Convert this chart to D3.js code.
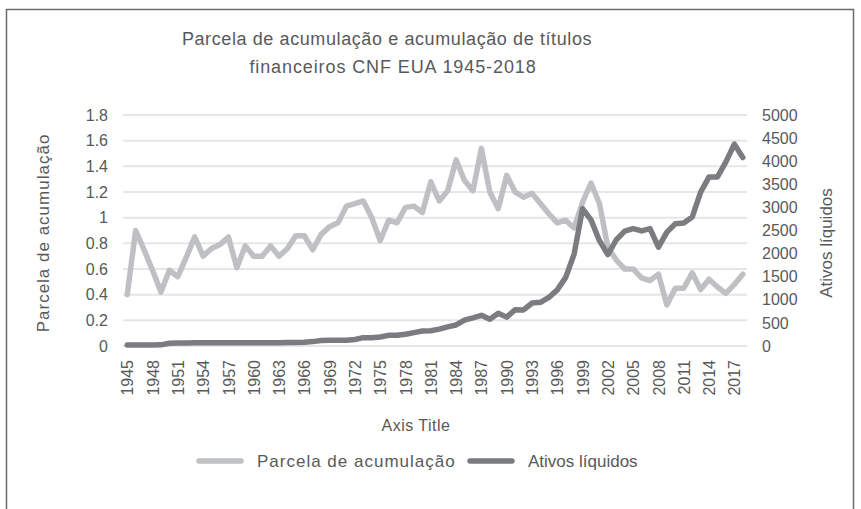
<!DOCTYPE html>
<html>
<head>
<meta charset="utf-8">
<script src="https://cdn.jsdelivr.net/npm/d3@7"></script>
<style>
  body { margin: 0; background: #fff; }
  svg text { font-family: "Liberation Sans", Arial, sans-serif; fill: #595959; }
</style>
</head>
<body>
<svg id="chart" width="861" height="509"></svg>
<script>
// categories (years)
const years = [1945, 1946, 1947, 1948, 1949, 1950, 1951, 1952, 1953, 1954,
    1955, 1956, 1957, 1958, 1959, 1960, 1961, 1962, 1963, 1964,
    1965, 1966, 1967, 1968, 1969, 1970, 1971, 1972, 1973, 1974,
    1975, 1976, 1977, 1978, 1979, 1980, 1981, 1982, 1983, 1984,
    1985, 1986, 1987, 1988, 1989, 1990, 1991, 1992, 1993, 1994,
    1995, 1996, 1997, 1998, 1999, 2000, 2001, 2002, 2003, 2004,
    2005, 2006, 2007, 2008, 2009, 2010, 2011, 2012, 2013, 2014,
    2015, 2016, 2017, 2018];

// left axis series
const parcela = [0.40, 0.90, 0.75, 0.59, 0.42, 0.59, 0.54, 0.69, 0.85, 0.70,
    0.76, 0.79, 0.85, 0.61, 0.78, 0.70, 0.70, 0.78, 0.70, 0.76,
    0.86, 0.86, 0.75, 0.87, 0.93, 0.96, 1.09, 1.11, 1.13, 1.00,
    0.82, 0.98, 0.96, 1.08, 1.09, 1.04, 1.28, 1.13, 1.21, 1.45,
    1.29, 1.21, 1.54, 1.20, 1.07, 1.33, 1.20, 1.16, 1.19, 1.11,
    1.03, 0.96, 0.98, 0.92, 1.12, 1.27, 1.11, 0.77, 0.67, 0.60,
    0.60, 0.53, 0.51, 0.56, 0.32, 0.45, 0.45, 0.57, 0.44, 0.52,
    0.46, 0.41, 0.48, 0.56];

// right axis series
const ativos = [20, 20, 20, 20, 25, 60, 65, 65, 70, 70,
    70, 70, 70, 70, 70, 70, 70, 72, 72, 75,
    78, 80, 95, 120, 123, 123, 125, 140, 180, 180,
    195, 230, 232, 255, 290, 326, 330, 365, 415, 455,
    560, 610, 665, 580, 710, 625, 785, 780, 930, 945,
    1050, 1215, 1485, 1990, 2970, 2730, 2280, 1980, 2300, 2485,
    2540, 2490, 2540, 2140, 2465, 2645, 2660, 2790, 3330, 3660,
    3660, 3985, 4370, 4080];

const leftTicks = [0, 0.2, 0.4, 0.6, 0.8, 1, 1.2, 1.4, 1.6, 1.8];
const rightTicks = [0, 500, 1000, 1500, 2000, 2500, 3000, 3500, 4000, 4500, 5000];
const xLabelYears = years.filter((d, i) => i % 3 === 0);

const titleLines = ["Parcela de acumulação e acumulação de títulos",
    "financeiros CNF EUA 1945-2018"];
const seriesNames = ["Parcela de acumulação", "Ativos líquidos"];

const lightColor = "#bfc0c3";
const darkColor = "#7b7c80";

let svg = d3.select("#chart");

// outer frame
svg.append("rect")
    .attr("x", 6.5).attr("y", 9.5)
    .attr("width", 847).attr("height", 520)
    .attr("fill", "none")
    .attr("stroke", "#6b6b6b")
    .attr("stroke-width", 1.5);

let margin = {top: 115, right: 114, bottom: 164, left: 123};
let width = 861 - margin.left - margin.right;
let height = 509 - margin.top - margin.bottom + 1;

let xScale = d3.scalePoint()
    .domain(years)
    .range([0, width])
    .padding(0.5);

let yLeft = d3.scaleLinear()
    .domain([0, 1.8])
    .range([height, 0]);

let yRight = d3.scaleLinear()
    .domain([0, 5000])
    .range([height, 0]);

let g = svg.append("g")
    .attr("transform", "translate(" + margin.left + "," + margin.top + ")");

// gridlines
g.append("g")
    .selectAll("line")
    .data(leftTicks)
    .join("line")
    .attr("x1", 0)
    .attr("x2", width)
    .attr("y1", d => yLeft(d))
    .attr("y2", d => yLeft(d))
    .attr("stroke", "#e6e6e6")
    .attr("stroke-width", 2);

// left axis
let leftAxis = g.append("g")
    .call(d3.axisLeft(yLeft).tickValues(leftTicks).tickSize(0).tickPadding(15).tickFormat(d3.format("")));
leftAxis.select(".domain").remove();
leftAxis.selectAll("text").style("font-size", "16px");

// right axis
let rightAxis = g.append("g")
    .attr("transform", "translate(" + width + ",0)")
    .call(d3.axisRight(yRight).tickValues(rightTicks).tickSize(0).tickPadding(15).tickFormat(d3.format("d")));
rightAxis.select(".domain").remove();
rightAxis.selectAll("text").style("font-size", "16px");

// x axis labels
let xAxis = g.append("g")
    .attr("transform", "translate(0," + height + ")")
    .call(d3.axisBottom(xScale).tickValues(xLabelYears).tickSize(0).tickPadding(0));
xAxis.select(".domain").remove();
xAxis.selectAll("text")
    .style("font-size", "16px")
    .attr("text-anchor", "end")
    .attr("dy", "0.35em")
    .attr("transform", "translate(0,14) rotate(-90)")
    .attr("y", 0)
    .attr("x", 0);

// lines
let lineLeft = d3.line()
    .x((d, i) => xScale(years[i]))
    .y(d => yLeft(d));

let lineRight = d3.line()
    .x((d, i) => xScale(years[i]))
    .y(d => yRight(d));

g.append("path")
    .datum(parcela)
    .attr("fill", "none")
    .attr("stroke", lightColor)
    .attr("stroke-width", 5.5)
    .attr("stroke-linejoin", "round")
    .attr("stroke-linecap", "round")
    .attr("d", lineLeft);

g.append("path")
    .datum(ativos)
    .attr("fill", "none")
    .attr("stroke", darkColor)
    .attr("stroke-width", 5.5)
    .attr("stroke-linejoin", "round")
    .attr("stroke-linecap", "round")
    .attr("d", lineRight);

// titles
svg.append("text")
    .attr("x", 387).attr("y", 45)
    .attr("text-anchor", "middle")
    .style("font-size", "18px")
    .style("letter-spacing", "0.6px")
    .text(titleLines[0]);
svg.append("text")
    .attr("x", 393).attr("y", 73)
    .attr("text-anchor", "middle")
    .style("font-size", "18px")
    .style("letter-spacing", "0.9px")
    .text(titleLines[1]);

svg.append("text")
    .attr("transform", "translate(49,233) rotate(-90)")
    .attr("text-anchor", "middle")
    .style("font-size", "17px")
    .style("letter-spacing", "1px")
    .text(seriesNames[0]);

svg.append("text")
    .attr("transform", "translate(832,243) rotate(-90)")
    .attr("text-anchor", "middle")
    .style("font-size", "17px")
    .text(seriesNames[1]);

svg.append("text")
    .attr("x", 416).attr("y", 431)
    .attr("text-anchor", "middle")
    .style("font-size", "16px")
    .style("letter-spacing", "0.5px")
    .text("Axis Title");

// legend
let legend = svg.append("g");
let legendItems = [
    {name: seriesNames[0], color: lightColor, x: 197, spacing: "1px"},
    {name: seriesNames[1], color: darkColor, x: 468, spacing: "0px"}
];
legendItems.forEach(function (item) {
    legend.append("line")
        .attr("x1", item.x + 2).attr("x2", item.x + 44)
        .attr("y1", 461).attr("y2", 461)
        .attr("stroke", item.color)
        .attr("stroke-width", 5.5)
        .attr("stroke-linecap", "round");
    legend.append("text")
        .attr("x", item.x + 60).attr("y", 467)
        .style("font-size", "17px")
        .style("letter-spacing", item.spacing)
        .text(item.name);
});
</script>
</body>
</html>
